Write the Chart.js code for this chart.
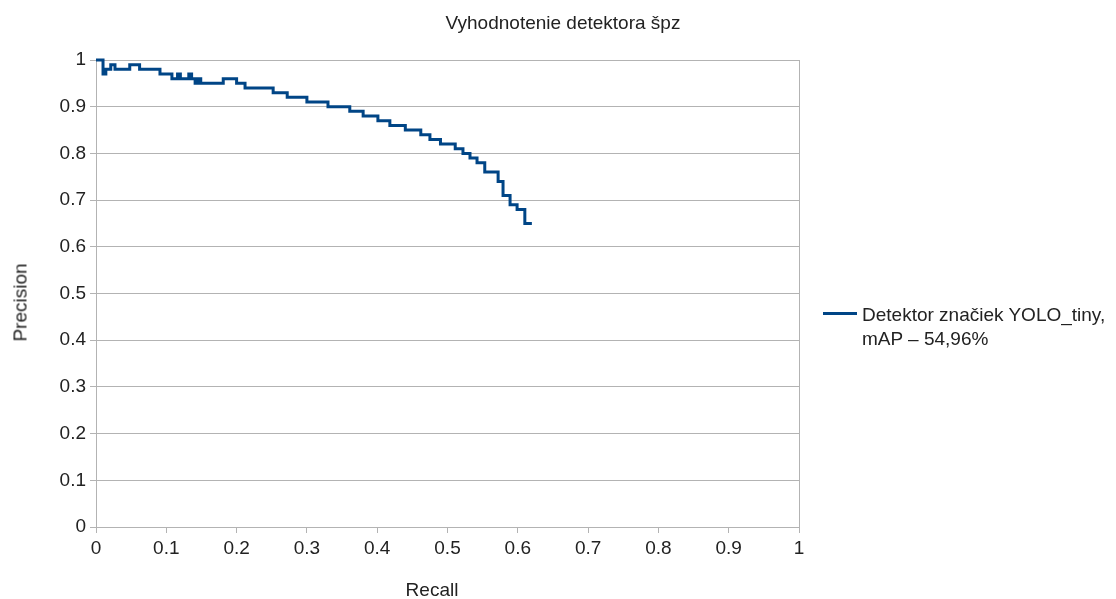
<!DOCTYPE html>
<html>
<head>
<meta charset="utf-8">
<script src="https://cdn.jsdelivr.net/npm/chart.js@4.4.1/dist/chart.umd.min.js"></script>
<style>
  html, body { margin: 0; padding: 0; background: #ffffff; }
  #wrap { position: relative; width: 1116px; height: 599px; }
  .txt { font-family: "Liberation Sans", Arial, sans-serif; font-size: 19px; color: #222; white-space: nowrap; }
  #legend { position: absolute; left: 823px; top: 303px; line-height: 24px; }
  #legend .swatch { position: absolute; left: 0; top: 9px; width: 34px; height: 3px; }
  #legend .text { position: absolute; left: 39px; top: 0; }
  #xtitle { position: absolute; left: 332px; top: 580px; width: 200px; text-align: center; line-height: 19px; }
  #ytitle { position: absolute; left: -80px; top: 293px; width: 200px; text-align: center; line-height: 19px; transform: rotate(-90deg); transform-origin: 100px 9.5px; }
</style>
</head>
<body>
<div id="wrap">
  <canvas id="c" width="1116" height="599"></canvas>
  <div id="xtitle" class="txt"></div>
  <div id="ytitle" class="txt"></div>
  <div id="legend" class="txt"></div>
</div>
<script>
// ---- data ----
const chartTitle = 'Vyhodnotenie detektora špz';
const xAxisTitle = 'Recall';
const yAxisTitle = 'Precision';
const seriesLabelLines = ['Detektor značiek YOLO_tiny,', 'mAP – 54,96%'];
const xTickLabels = ['0', '0.1', '0.2', '0.3', '0.4', '0.5', '0.6', '0.7', '0.8', '0.9', '1'];
const yTickLabels = ['0', '0.1', '0.2', '0.3', '0.4', '0.5', '0.6', '0.7', '0.8', '0.9', '1'];
const recall = [0.000, 0.010, 0.014, 0.021, 0.027, 0.048, 0.062, 0.091, 0.108, 0.116,
                0.120, 0.132, 0.136, 0.141, 0.145, 0.149, 0.181, 0.200, 0.212, 0.252,
                0.272, 0.300, 0.330, 0.361, 0.380, 0.401, 0.418, 0.440, 0.462, 0.475,
                0.490, 0.511, 0.522, 0.532, 0.542, 0.553, 0.572, 0.579, 0.589, 0.599,
                0.610, 0.620];
const precision = [1.00, 0.97, 0.98, 0.99, 0.98, 0.99, 0.98, 0.97, 0.96, 0.97,
                   0.96, 0.97, 0.96, 0.95, 0.96, 0.95, 0.96, 0.95, 0.94, 0.93,
                   0.92, 0.91, 0.90, 0.89, 0.88, 0.87, 0.86, 0.85, 0.84, 0.83,
                   0.82, 0.81, 0.80, 0.79, 0.78, 0.76, 0.74, 0.71, 0.69, 0.68,
                   0.65, 0.65];

const lineColor = '#004586';
const gridColor = '#b3b3b3';
const textColor = '#222222';
const fontFamily = '"Liberation Sans", Arial, sans-serif';

const points = recall.map((r, i) => ({ x: r, y: precision[i] }));

// HTML texts: legend and axis titles
document.getElementById('legend').innerHTML = '<div class="swatch" style="background:' + lineColor + '"></div>' +
  '<div class="text">' + seriesLabelLines.join('<br>') + '</div>';
document.getElementById('xtitle').textContent = xAxisTitle;
document.getElementById('ytitle').textContent = yAxisTitle;

new Chart(document.getElementById('c'), {
  type: 'line',
  data: {
    datasets: [{
      label: seriesLabelLines.join(' '),
      data: points,
      borderColor: lineColor,
      backgroundColor: lineColor,
      borderWidth: 3,
      pointRadius: 0,
      stepped: 'before',
      fill: false,
      clip: 6
    }]
  },
  options: {
    responsive: false,
    animation: false,
    devicePixelRatio: 1,
    layout: { padding: { left: 10, right: 0, top: 0, bottom: 0 } },
    plugins: {
      legend: { display: false },
      tooltip: { enabled: false },
      title: {
        display: true,
        text: chartTitle,
        color: textColor,
        font: { family: fontFamily, size: 19, weight: 'normal', lineHeight: 1 },
        padding: { top: 14, bottom: 27 }
      }
    },
    scales: {
      x: {
        type: 'linear',
        min: 0, max: 1,
        ticks: {
          stepSize: 0.1,
          color: textColor,
          padding: 4,
          maxRotation: 0,
          autoSkip: false,
          font: { family: fontFamily, size: 19 },
          callback: (v, i) => xTickLabels[i]
        },
        grid: {
          color: (ctx) => (ctx.tick && Math.abs(ctx.tick.value - 1) < 1e-9) ? gridColor : 'rgba(0,0,0,0)',
          tickColor: gridColor,
          tickLength: 6,
          lineWidth: 1
        },
        border: { color: gridColor, width: 1 },
        title: { display: false, text: xAxisTitle },
        afterFit: (s) => { s.height = 72; }
      },
      y: {
        type: 'linear',
        min: 0, max: 1,
        ticks: {
          stepSize: 0.1,
          color: textColor,
          padding: 4,
          autoSkip: false,
          font: { family: fontFamily, size: 19 },
          callback: (v, i) => yTickLabels[i]
        },
        grid: { color: gridColor, tickColor: gridColor, tickLength: 6, lineWidth: 1 },
        border: { color: gridColor, width: 1 },
        title: { display: false, text: yAxisTitle },
        afterFit: (s) => { s.width = 86; }
      },
      yRight: {
        axis: 'y',
        position: 'right',
        display: true,
        min: 0, max: 1,
        ticks: { display: false },
        grid: { display: false },
        border: { display: false },
        afterFit: (s) => { s.width = 317; }
      }
    }
  }
});
</script>
</body>
</html>
